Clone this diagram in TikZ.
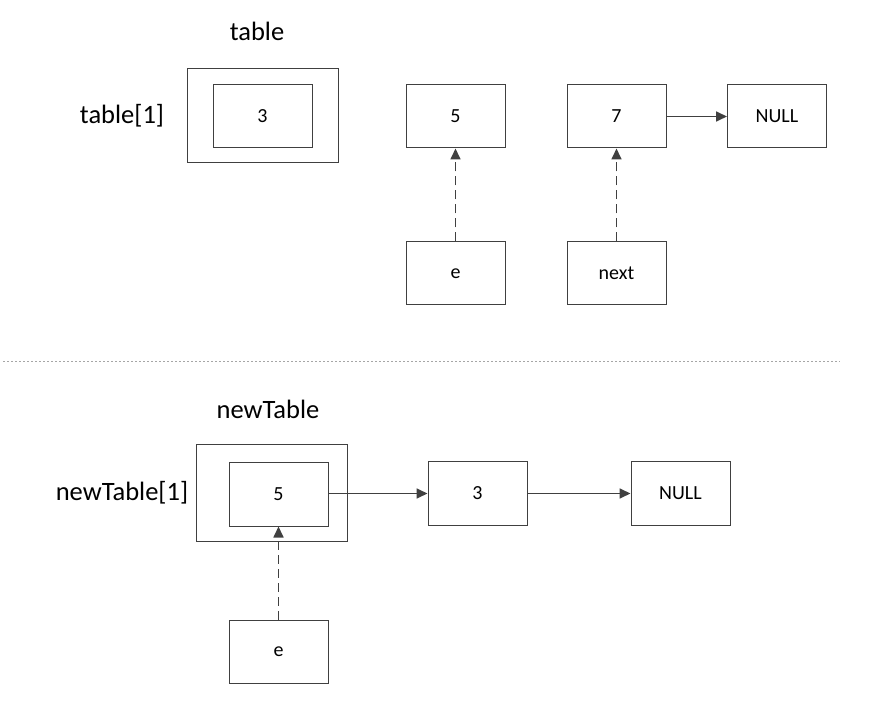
\documentclass[tikz,border=0pt]{standalone}
\usepackage{fontspec}
\setmainfont{Carlito}
\usetikzlibrary{arrows.meta}
\definecolor{ln}{HTML}{404040}
\tikzset{
  cell/.style={draw=ln, line width=1pt, minimum width=99pt, minimum height=63pt, inner sep=0pt, font=\fontsize{20}{24}\selectfont},
  outer/.style={draw=ln, line width=1pt, inner sep=0pt, fill=none},
  lbl/.style={inner sep=0pt, font=\fontsize{26.5}{31}\selectfont},
  arr/.style={draw=ln, line width=1.7pt, -{Triangle[length=11pt,width=10pt]}},
  darr/.style={arr, dash pattern=on 9pt off 5pt}
}
\begin{document}
\begin{tikzpicture}[x=1pt,y=-1pt]
\useasboundingbox (0,0) rectangle (879,703);
% top
\node[lbl] (t) at (257,31) {table};
\node[lbl] (t1) at (122,116) {table[1]};
\node[outer, minimum width=151pt, minimum height=94pt] (o1) at (262.5,116) {};
\node[cell] (c3) at (262.5,116.5) {3};
\node[cell] (c5) at (455.5,116.5) {5};
\node[cell] (c7) at (616.5,116.5) {7};
\node[cell] (n1) at (777,116.5) {NULL};
\node[cell] (e1) at (455.5,273.5) {e};
\node[cell] (nx) at (616.5,273.5) {next};
\draw[darr] (e1) -- (c5);
\draw[darr] (nx) -- (c7);
\draw[arr] (c7) -- (n1);
% separator
\coordinate (s1) at (3,361);
\coordinate (s2) at (840,361);
\draw[gray!70, line width=0.8pt, dash pattern=on 1.5pt off 2.5pt] (s1) -- (s2);
% bottom
\node[lbl] (nt) at (268,409) {newTable};
\node[lbl] (nt1) at (122,493) {newTable[1]};
\node[outer, minimum width=151pt, minimum height=96pt] (o2) at (271.5,493) {};
\node[cell] (b5) at (278.5,494.5) {5};
\node[cell] (b3) at (477.5,493.5) {3};
\node[cell] (n2) at (680.5,493.5) {NULL};
\node[cell] (e2) at (278.5,651.5) {e};
\draw[darr] (e2) -- (b5);
\draw[arr] (b5.east |- b3) -- (b3);
\draw[arr] (b3) -- (n2);
\end{tikzpicture}
\end{document}
